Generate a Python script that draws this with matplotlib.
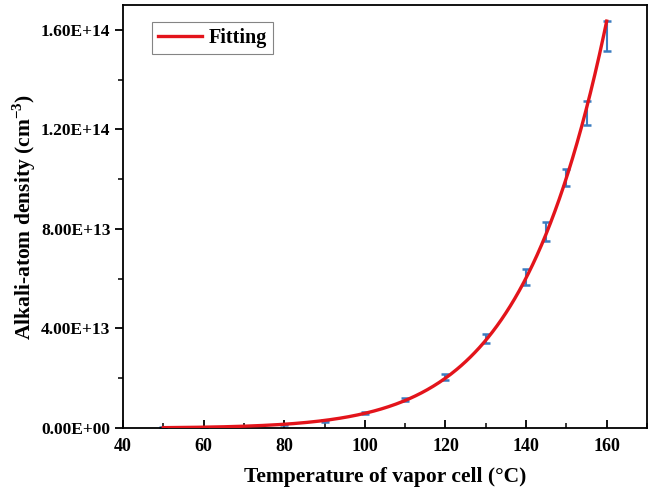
import numpy as np
import matplotlib
matplotlib.use("Agg")
import matplotlib.pyplot as plt
from matplotlib.ticker import MultipleLocator, FuncFormatter

plt.rcParams['font.family'] = ['Liberation Serif', 'DejaVu Serif']
plt.rcParams['font.weight'] = 'bold'
plt.rcParams['mathtext.fontset'] = 'custom'
plt.rcParams['mathtext.rm'] = 'Liberation Serif:bold'
plt.rcParams['mathtext.bf'] = 'Liberation Serif:bold'

# measured points (temperature in C, density in cm^-3)
temps = [50, 60, 70, 80, 90, 100, 110, 120, 130, 140, 145, 150, 155, 160]
density = [0.15e12, 0.35e12, 0.8e12, 1.6e12, 2.9e12, 5.9e12, 11.5e12, 20.5e12,
           36.0e12, 60.7e12, 79.0e12, 100.7e12, 126.6e12, 157.6e12]
errors = [0.1e12, 0.1e12, 0.15e12, 0.2e12, 0.3e12, 0.4e12, 0.6e12, 1.2e12,
          1.8e12, 3.2e12, 3.8e12, 3.4e12, 4.8e12, 6.0e12]

t = np.array(temps, dtype=float)
n = np.array(density)

# vapor-pressure style fit: log10(n*T) = a - b/T  (T in K)
mask = t >= 90
TK = t[mask] + 273.15
coef = np.polyfit(1.0 / TK, np.log10(n[mask] * TK), 1)
t_fit = np.linspace(50, 160, 300)
TK_fit = t_fit + 273.15
n_fit = 10 ** np.polyval(coef, 1.0 / TK_fit) / TK_fit

fig = plt.figure(figsize=(6.5, 4.94), dpi=100)
ax = fig.add_axes([0.1892, 0.1336, 0.8062, 0.8563])

ax.errorbar(temps, density, yerr=errors, fmt='none', ecolor='#3b7cc0',
            elinewidth=1.5, capsize=3, capthick=1.8, zorder=2)
ax.plot(t_fit, n_fit, color='#e3141b', lw=2.4, label='Fitting', zorder=3)

ax.set_xlim(40, 170)
ax.set_ylim(0, 1.7e14)
ax.xaxis.set_major_locator(MultipleLocator(20))
ax.xaxis.set_minor_locator(MultipleLocator(10))
ax.yaxis.set_major_locator(MultipleLocator(4e13))
ax.yaxis.set_minor_locator(MultipleLocator(2e13))
ax.yaxis.set_major_formatter(FuncFormatter(lambda v, p: f"{v:.2E}"))

ax.tick_params(axis='x', which='both', direction='in', labelsize=13, pad=7)
ax.tick_params(axis='y', which='both', direction='out', labelsize=12.5, pad=3)
ax.tick_params(which='major', length=6, width=1.3)
ax.tick_params(which='minor', length=3.5, width=1.1)
for s in ax.spines.values():
    s.set_linewidth(1.3)

ax.set_xlabel('Temperature of vapor cell (\u00b0C)', fontsize=15.5, fontweight='bold', labelpad=9)
ax.set_ylabel(r'Alkali-atom density (cm$^{-3}$)', fontsize=15.5, fontweight='bold', labelpad=2)

leg = ax.legend(loc='upper left', fontsize=14.5, frameon=True, fancybox=False,
                handlelength=2.2, borderpad=0.3, handletextpad=0.3,
                borderaxespad=0, bbox_to_anchor=(0.055, 0.96))
leg.get_frame().set_edgecolor('#666666')
leg.get_frame().set_linewidth(0.8)

fig.savefig('out.png', dpi=100)
